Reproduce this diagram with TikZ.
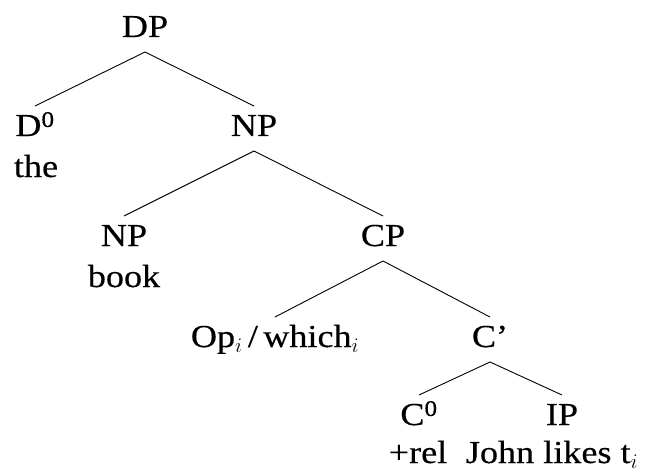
\documentclass[tikz,border=0pt]{standalone}
\usepackage{fontspec}
\setmainfont{Liberation Serif}[FakeStretch=1.13,FakeBold=0.4]
\begin{document}
\begin{tikzpicture}[x=1pt,y=1pt,
  lbl/.style={font=\fontsize{32}{38}\selectfont, inner sep=0pt, anchor=base},
  branch/.style={line width=0.9pt, black}]
\useasboundingbox (0,0) rectangle (647,472);
% labels (y = 472 - pixel baseline)
\node[lbl] (dp)   at (145,435) {DP};
\node[lbl] (d0)   at (35,336) {D\textsuperscript{0}};
\node[lbl] (the)  at (36,295) {the};
\node[lbl] (np1)  at (254,336) {NP};
\node[lbl] (np2)  at (124,226) {NP};
\node[lbl] (book) at (124,185) {book};
\node[lbl] (cp)   at (383,226) {CP};
\node[lbl] (op)   at (275,125) {Op$_i$\,/\,which$_i$};
\node[lbl] (cbar) at (490,125) {C’};
\node[lbl] (c0)   at (419,47) {C\textsuperscript{0}};
\node[lbl] (rel)  at (418,9) {+rel};
\node[lbl] (ip)   at (562,47) {IP};
\node[lbl] (john) at (552,9) {John likes t$_i$};
% branches
\draw[branch] ([yshift=-15pt]dp.base) -- ([yshift=30pt]d0.base);
\draw[branch] ([yshift=-15pt]dp.base) -- ([yshift=30pt]np1.base);
\draw[branch] ([yshift=-15pt]np1.base) -- ([yshift=30pt]np2.base);
\draw[branch] ([yshift=-15pt]np1.base) -- ([yshift=30pt]cp.base);
\draw[branch] ([yshift=-15pt]cp.base) -- ([yshift=30pt]op.base);
\draw[branch] ([yshift=-15pt]cp.base) -- ([yshift=30pt]cbar.base);
\draw[branch] ([yshift=-15pt]cbar.base) -- ([yshift=30pt]c0.base);
\draw[branch] ([yshift=-15pt]cbar.base) -- ([yshift=30pt]ip.base);
\end{tikzpicture}
\end{document}
